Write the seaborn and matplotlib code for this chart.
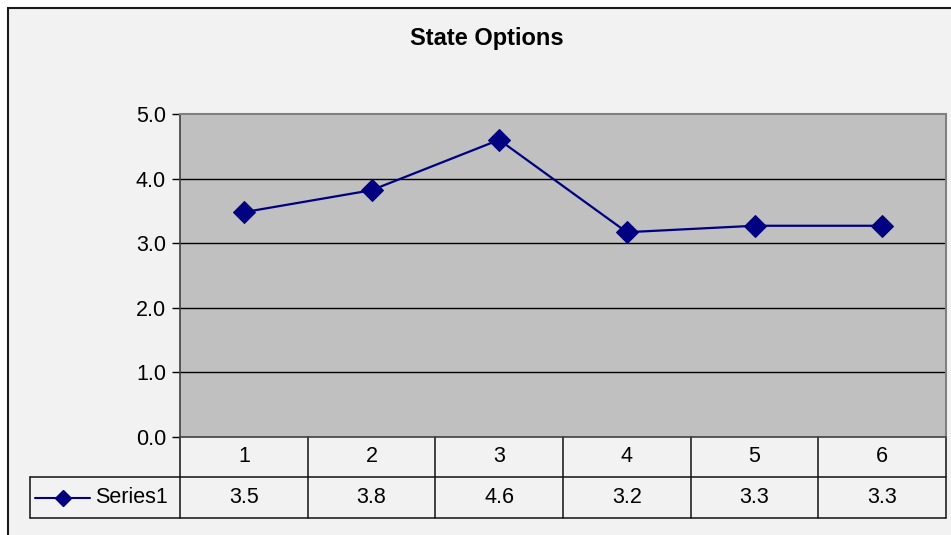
import matplotlib
matplotlib.use("Agg")
import matplotlib.pyplot as plt
import seaborn as sns
import pandas as pd
from matplotlib.lines import Line2D

# ---- data ----
categories = ["1", "2", "3", "4", "5", "6"]
series_name = "Series1"
values = [3.48, 3.82, 4.60, 3.17, 3.27, 3.27]
y_ticks = [0.0, 1.0, 2.0, 3.0, 4.0, 5.0]
title = "State Options"

sns.set_theme(style="white")
plt.rcParams["font.family"] = ["Liberation Sans", "DejaVu Sans"]
plt.rcParams["text.color"] = "black"

FS = 15.5
W, H = 951, 535
fig = plt.figure(figsize=(W / 100, H / 100), dpi=100)
fig.patch.set_facecolor("white")

# chart area (light gray with dark border on left/top)
bg = plt.Rectangle((8 / W, -0.1), 1.2, (H - 8) / H + 0.1, transform=fig.transFigure,
                   facecolor="#f2f2f2", edgecolor="#1a1a1a", linewidth=1.5, zorder=-10)
fig.patches.append(bg)

left, right, top, bottom = 180, 946, 114, 437
ax = fig.add_axes([left / W, 1 - bottom / H, (right - left) / W, (bottom - top) / H])
ax.set_zorder(1)
ax.set_facecolor("#c0c0c0")

df = pd.DataFrame({"cat": list(range(len(categories))), "val": values})
sns.lineplot(data=df, x="cat", y="val", ax=ax, color="#000080", linewidth=1.6,
             marker="D", markersize=11, markeredgecolor="#000080", zorder=5)

ax.set_xlim(-0.5, len(categories) - 0.5)
ax.set_ylim(0, 5)
ax.set_yticks(y_ticks)
ax.set_yticklabels([f"{t:.1f}" for t in y_ticks], fontsize=FS, color="black")
ax.set_xticks([])
ax.set_xlabel("")
ax.set_ylabel("")
for t in y_ticks[1:-1]:
    ax.axhline(t, color="black", linewidth=1.0, zorder=1)
ax.tick_params(axis="y", which="both", left=True, length=6, width=1, color="black", pad=4)
for s in ["top", "right"]:
    ax.spines[s].set_color("#808080")
    ax.spines[s].set_linewidth(1.5)
ax.spines["left"].set_color("#404040")
ax.spines["left"].set_linewidth(1.2)
ax.spines["bottom"].set_color("#404040")
ax.spines["bottom"].set_linewidth(1.2)

fig.text(487 / W, 1 - 39 / H, title, fontsize=17, fontweight="bold", ha="center", va="center",
         color="black")

# ---- data table below the axes ----
ph = bottom - top
r1 = -40 / ph
r2 = -81 / ph
leg_left = (30 - left) / (right - left) * len(categories) - 0.5  # in data units
trans = ax.get_xaxis_transform()
lc = "#111111"
n = len(categories)
def hline(x0, x1, y):
    ax.add_line(Line2D([x0, x1], [y, y], transform=trans, color=lc, linewidth=1.1, clip_on=False))
def vline(x, y0, y1):
    ax.add_line(Line2D([x, x], [y0, y1], transform=trans, color=lc, linewidth=1.1, clip_on=False))

hline(leg_left, n - 0.5, r1)
hline(leg_left, n - 0.5, r2)
for i in range(n + 1):
    vline(i - 0.5, 0, r2)
vline(leg_left, r1, r2)

for i, (c, v) in enumerate(zip(categories, values)):
    ax.text(i, r1 / 2, c, transform=trans, ha="center", va="center", fontsize=FS)
    ax.text(i, (r1 + r2) / 2, f"{v:.1f}", transform=trans, ha="center", va="center", fontsize=FS)

# legend key in the table
ym = (r1 + r2) / 2
kx0 = leg_left + 0.04
kx1 = leg_left + 0.47
ax.add_line(Line2D([kx0, kx1], [ym, ym], transform=trans, color="#000080", linewidth=1.5, clip_on=False))
ax.add_line(Line2D([(kx0 + kx1) / 2], [ym], transform=trans, color="#000080", marker="D",
                   markersize=8, clip_on=False))
ax.text(kx1 + 0.04, ym, series_name, transform=trans, ha="left", va="center", fontsize=FS)

fig.savefig("out.png", dpi=100, facecolor=fig.get_facecolor())
